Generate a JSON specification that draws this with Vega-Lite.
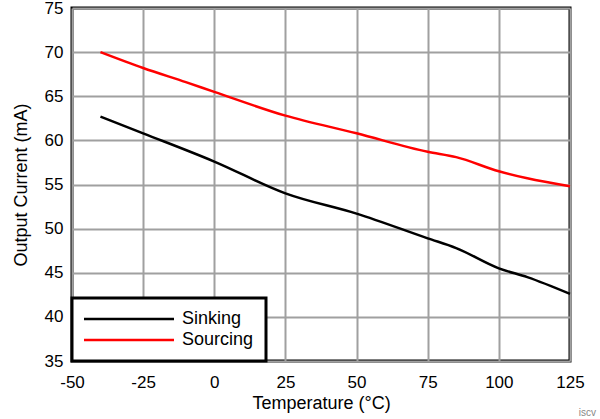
{
  "$schema": "https://vega.github.io/schema/vega-lite/v6.json",
  "autosize": "none",
  "width": 498,
  "height": 353,
  "padding": {"left": 72, "top": 8, "right": 30, "bottom": 58},
  "background": "white",
  "config": {
    "font": "Liberation Sans",
    "view": {"stroke": "black", "strokeWidth": 3},
    "legend": {"strokeWidth": 3},
    "axis": {
      "labelFont": "Liberation Sans",
      "labelFontSize": 17,
      "labelColor": "black",
      "labelFlush": false,
      "titleFont": "Liberation Sans",
      "titleFontSize": 18,
      "titleFontWeight": "normal",
      "titleColor": "black",
      "ticks": false,
      "domain": false,
      "gridColor": "#a0a0a0",
      "gridWidth": 2,
      "gridOpacity": 1
    }
  },
  "title": {
    "text": "iscv",
    "orient": "bottom",
    "anchor": "end",
    "frame": "group",
    "fontSize": 10,
    "fontWeight": "normal",
    "color": "#888888",
    "dx": 26,
    "dy": -4,
    "offset": 0
  },
  "data": {
    "values": [
      {"T": -40, "I": 70.0, "s": "Sourcing"},
      {"T": -25, "I": 68.2, "s": "Sourcing"},
      {"T": -10, "I": 66.6, "s": "Sourcing"},
      {"T": 0, "I": 65.5, "s": "Sourcing"},
      {"T": 25, "I": 62.8, "s": "Sourcing"},
      {"T": 50, "I": 60.8, "s": "Sourcing"},
      {"T": 75, "I": 58.7, "s": "Sourcing"},
      {"T": 85, "I": 58.1, "s": "Sourcing"},
      {"T": 100, "I": 56.5, "s": "Sourcing"},
      {"T": 110, "I": 55.7, "s": "Sourcing"},
      {"T": 125, "I": 54.8, "s": "Sourcing"},
      {"T": -40, "I": 62.7, "s": "Sinking"},
      {"T": -25, "I": 60.8, "s": "Sinking"},
      {"T": 0, "I": 57.6, "s": "Sinking"},
      {"T": 25, "I": 54.0, "s": "Sinking"},
      {"T": 50, "I": 51.7, "s": "Sinking"},
      {"T": 75, "I": 48.9, "s": "Sinking"},
      {"T": 85, "I": 47.8, "s": "Sinking"},
      {"T": 100, "I": 45.5, "s": "Sinking"},
      {"T": 110, "I": 44.5, "s": "Sinking"},
      {"T": 125, "I": 42.6, "s": "Sinking"}
    ]
  },
  "mark": {"type": "line", "strokeWidth": 2.5, "interpolate": "monotone"},
  "encoding": {
    "x": {
      "field": "T",
      "type": "quantitative",
      "scale": {"domain": [-50, 125], "nice": false, "zero": false},
      "axis": {"values": [-50, -25, 0, 25, 50, 75, 100, 125], "title": "Temperature (°C)", "labelPadding": 13, "titlePadding": 4, "labelExpr": "(datum.value < 0 ? '-' : '') + abs(datum.value)"}
    },
    "y": {
      "field": "I",
      "type": "quantitative",
      "scale": {"domain": [35, 75], "nice": false, "zero": false},
      "axis": {"values": [35, 40, 45, 50, 55, 60, 65, 70, 75], "title": "Output Current (mA)", "labelPadding": 9, "titlePadding": 14}
    },
    "color": {
      "field": "s",
      "type": "nominal",
      "scale": {"domain": ["Sinking", "Sourcing"], "range": ["black", "#ff0000"]},
      "legend": {
        "title": null,
        "orient": "bottom-left",
        "offset": 0,
        "padding": 12,
        "strokeColor": "black",
        "fillColor": "white",
        "symbolType": "M-9,0H9",
        "symbolSize": 100,
        "symbolStrokeWidth": 2.5,
        "symbolOffset": 36,
        "labelOffset": 44,
        "labelFont": "Liberation Sans",
        "labelFontSize": 18,
        "labelColor": "black",
        "rowPadding": 3
      }
    }
  }
}
